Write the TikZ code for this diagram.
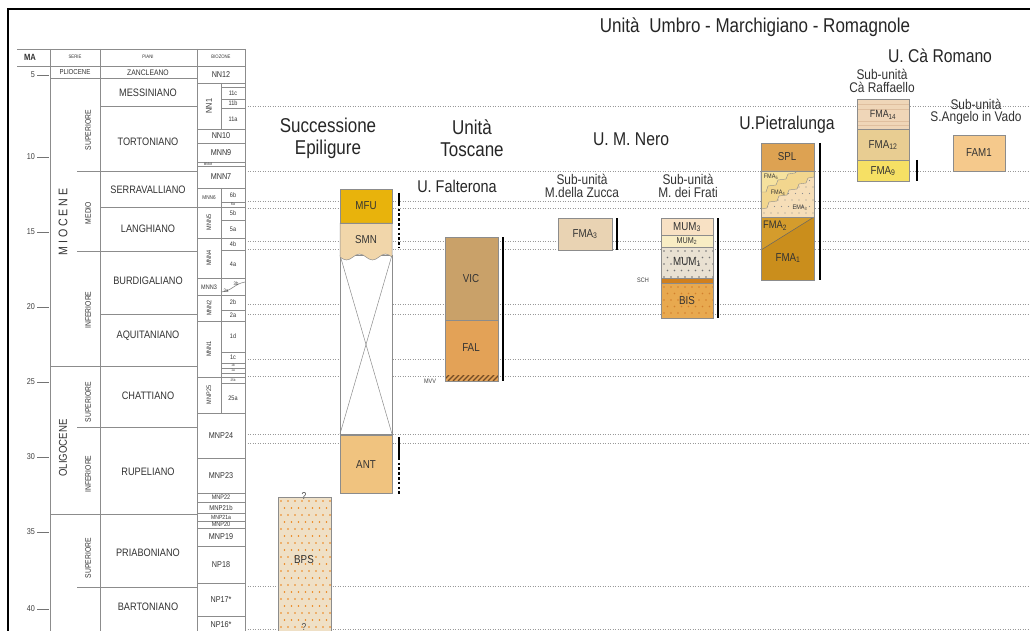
\documentclass[tikz,border=0pt]{standalone}
\usepackage{fontspec}
\setmainfont{Liberation Sans}[FakeStretch=0.85]
\usetikzlibrary{positioning}

\definecolor{cmfu}{HTML}{E8B30C}
\definecolor{csmn}{HTML}{F1D6AA}
\definecolor{cant}{HTML}{F0C37F}
\definecolor{cbps}{HTML}{EFE0C6}
\definecolor{cvic}{HTML}{C9A169}
\definecolor{cfal}{HTML}{E3A257}
\definecolor{czuc}{HTML}{E9D3B3}
\definecolor{cmumc}{HTML}{F8E1C4}
\definecolor{cmumb}{HTML}{F8EDC4}
\definecolor{cmuma}{HTML}{E9E1D2}
\definecolor{csch}{HTML}{D0801E}
\definecolor{cbis}{HTML}{E8A94F}
\definecolor{cspl}{HTML}{DDA252}
\definecolor{cfive}{HTML}{F6E29E}
\definecolor{cfour}{HTML}{F2D68E}
\definecolor{cema}{HTML}{F6DEB8}
\definecolor{cfmb}{HTML}{D49C2C}
\definecolor{cfma}{HTML}{CA8E1C}
\definecolor{cfxiv}{HTML}{EFD6B8}
\definecolor{cfxii}{HTML}{E8CD92}
\definecolor{cfix}{HTML}{F6E064}
\definecolor{cfam}{HTML}{F5C98C}

\begin{document}
\begin{tikzpicture}[x=1pt,y=-1pt,
	tab/.style={draw=black!45, line width=0.6pt},
	guide/.style={draw=black!40, line width=0.6pt, dash pattern=on 1.2pt off 1.3pt},
	box/.style={draw=black!45, line width=0.5pt},
	bar/.style={line width=2.6pt},
	dotbar/.style={line width=2.6pt, dash pattern=on 2.6pt off 2.2pt},
	bigttl/.style={font=\fontsize{20}{22}\selectfont, text=black!85, align=center},
	ttl/.style={font=\fontsize{18.5}{20}\selectfont, text=black!85},
	subttl/.style={font=\fontsize{14}{12.5}\selectfont, text=black!80, align=center},
	lab/.style={font=\fontsize{11.5}{12}\selectfont, text=black!80},
	piano/.style={font=\fontsize{10.8}{11}\selectfont, text=black!80},
	zona/.style={font=\fontsize{8.5}{9}\selectfont, text=black!80},
	sottozona/.style={font=\fontsize{6.5}{7}\selectfont, text=black!80},
	serie/.style={font=\fontsize{8}{9}\selectfont, text=black!80, rotate=90},
	inner sep=0pt]
	\useasboundingbox (0,0) rectangle (1030,631);
	\fill[white] (0,0) rectangle (1030,631);

	% cornice
	\draw[line width=1.2pt] (8,631) -- (8,9) -- (1030,9);

	% linee guida
	\foreach \y in {106,171,201,208,241,249,304,314,359,376,434,443,586,629}
		\draw[guide] (245,\y) -- (1030,\y);

	% tabella
	\draw[tab] (17,49) -- (245,49);
	\draw[tab] (17,66) -- (245,66);
	\draw[tab] (50,49) -- (50,631);
	\draw[tab] (100,49) -- (100,631);
	\draw[tab] (197,49) -- (197,631);
	\draw[tab] (245,49) -- (245,631);
	\foreach \y in {78,366,514}
		\draw[tab] (50,\y) -- (197,\y);
	\foreach \y in {171,251,427,587}
		\draw[tab] (77,\y) -- (197,\y);
	\foreach \y in {106,207,314}
		\draw[tab] (100,\y) -- (197,\y);
	\foreach \y in {83,129,143,162,166,188,207,238,278,295,321,377,413,458,493,502,513,521,528,546,583,616}
		\draw[tab] (197,\y) -- (245,\y);
	\foreach \y in {87,99,108,202,220,250,310,352,363,368,373,383}
		\draw[tab] (221,\y) -- (245,\y);
	\draw[tab] (221,83) -- (221,129);
	\draw[tab] (221,188) -- (221,413);
	\draw[tab] (221,292) .. controls (232,291) and (234,284) .. (245,282);

	\node[font=\fontsize{9}{9}\selectfont\bfseries, text=black!80] (hma) at (30,57) {MA};
	\node[font=\fontsize{5}{5}\selectfont, text=black!80] (hserie) at (75,57) {SERIE};
	\node[font=\fontsize{5}{5}\selectfont, text=black!80] (hpiani) at (148,57) {PIANI};
	\node[font=\fontsize{5}{5}\selectfont, text=black!80] (hbio) at (221,57) {BIOZONE};

	% eta
	\foreach \m/\y in {5/75,10/157,15/232,20/307,25/382,30/457,35/532,40/609}{
		\node[font=\fontsize{8.5}{9}\selectfont, text=black!75, anchor=east] (ma\m) at (35,\y) {\m};
		\draw[black!55, line width=0.6pt] (37,\y) -- (49,\y);
	}

	% serie
	\node[font=\fontsize{7.2}{8}\selectfont, text=black!80] (plio) at (75,72.5) {PLIOCENE};
	\node[font=\fontsize{12.5}{13}\selectfont, text=black!80, rotate=90] (mio) at (63,222) {M I O C E N E};
	\node[font=\fontsize{11.3}{12}\selectfont, text=black!80, rotate=90] (oligo) at (63,448) {OLIGOCENE};
	\node[serie] (sup1) at (88,130) {SUPERIORE};
	\node[serie] (med1) at (88,213) {MEDIO};
	\node[serie] (inf1) at (88,310) {INFERIORE};
	\node[serie] (sup2) at (88,402) {SUPERIORE};
	\node[serie] (inf2) at (88,474) {INFERIORE};
	\node[serie] (sup3) at (88,558) {SUPERIORE};

	% piani
	\node[font=\fontsize{8}{8}\selectfont, text=black!80] (zan) at (148,72.5) {ZANCLEANO};
	\node[piano] (mes) at (148,93) {MESSINIANO};
	\node[piano] (tor) at (148,142) {TORTONIANO};
	\node[piano] (ser) at (148,190) {SERRAVALLIANO};
	\node[piano] (lan) at (148,229) {LANGHIANO};
	\node[piano] (bur) at (148,281) {BURDIGALIANO};
	\node[piano] (aqu) at (148,336) {AQUITANIANO};
	\node[piano] (cha) at (148,396) {CHATTIANO};
	\node[piano] (rup) at (148,472) {RUPELIANO};
	\node[piano] (pri) at (148,553) {PRIABONIANO};
	\node[piano] (bar) at (148,607) {BARTONIANO};

	% biozone
	\node[zona] (nn12) at (221,75) {NN12};
	\node[zona, rotate=90] (nn11) at (209,106) {NN1};
	\node[sottozona] (z11c) at (233,93) {11c};
	\node[sottozona] (z11b) at (233,103.5) {11b};
	\node[sottozona] (z11a) at (233,119) {11a};
	\node[zona] (nn10) at (221,136) {NN10};
	\node[zona] (mnn9) at (221,152.5) {MNN9};
	\node[font=\fontsize{3.5}{4}\selectfont, text=black!80] (mnn8) at (208,164) {MNN8};
	\node[zona] (mnn7) at (221,177) {MNN7};
	\node[font=\fontsize{5.5}{6}\selectfont, text=black!80] (mnn6) at (209,197.5) {MNN6};
	\node[sottozona] (z6b) at (233,195) {6b};
	\node[font=\fontsize{4}{4}\selectfont, text=black!80] (z6a) at (233,204.5) {6a};
	\node[sottozona, rotate=90] (mnn5) at (209,222.5) {MNN5};
	\node[sottozona] (z5b) at (233,213.5) {5b};
	\node[sottozona] (z5a) at (233,229) {5a};
	\node[sottozona, rotate=90] (mnn4) at (209,258) {MNN4};
	\node[sottozona] (z4b) at (233,244) {4b};
	\node[sottozona] (z4a) at (233,264) {4a};
	\node[sottozona] (mnn3) at (209,287) {MNN3};
	\node[font=\fontsize{5}{5}\selectfont, text=black!80] (z3b) at (236,283.5) {3b};
	\node[font=\fontsize{5}{5}\selectfont, text=black!80] (z3a) at (226,290.5) {3a};
	\node[sottozona, rotate=90] (mnn2) at (209,308) {MNN2};
	\node[sottozona] (z2b) at (233,302.5) {2b};
	\node[sottozona] (z2a) at (233,315.5) {2a};
	\node[sottozona, rotate=90] (mnn1) at (209,349) {MNN1};
	\node[sottozona] (z1d) at (233,336.5) {1d};
	\node[sottozona] (z1c) at (233,357.5) {1c};
	\node[font=\fontsize{3.5}{4}\selectfont, text=black!80] (z1b) at (233,365.5) {1b};
	\node[font=\fontsize{3.5}{4}\selectfont, text=black!80] (z1a) at (233,370.5) {1a};
	\node[font=\fontsize{3.5}{4}\selectfont, text=black!80] (z25b) at (233,380) {25b};
	\node[sottozona, rotate=90] (mnp25) at (209,395) {MNP25};
	\node[sottozona] (z25a) at (233,398) {25a};
	\node[zona] (mnp24) at (221,435.5) {MNP24};
	\node[zona] (mnp23) at (221,476) {MNP23};
	\node[font=\fontsize{6.5}{7}\selectfont, text=black!80] (mnp22) at (221,497.5) {MNP22};
	\node[font=\fontsize{7}{7}\selectfont, text=black!80] (mnp21b) at (221,507.5) {MNP21b};
	\node[font=\fontsize{6}{6}\selectfont, text=black!80] (mnp21a) at (221,517) {MNP21a};
	\node[font=\fontsize{6.5}{7}\selectfont, text=black!80] (mnp20) at (221,524.5) {MNP20};
	\node[zona] (mnp19) at (221,537) {MNP19};
	\node[zona] (np18) at (221,564.5) {NP18};
	\node[zona] (np17) at (221,599.5) {NP17*};
	\node[zona] (np16) at (221,625) {NP16*};

	% titoli
	\node[bigttl] (umr) at (755,27) {Unità\enspace Umbro - Marchigiano - Romagnole};
	\node[bigttl] (epi) at (328,138) {Successione\\Epiligure};
	\node[bigttl] (tosc) at (472,138) {Unità\\Toscane};
	\node[font=\fontsize{17}{18}\selectfont, text=black!85] (falt) at (457,186) {U. Falterona};
	\node[ttl] (nero) at (631,139) {U. M. Nero};
	\node[ttl] (pietra) at (787,125) {U.Pietralunga};
	\node[ttl] (caro) at (940,56) {U. Cà Romano};
	\node[subttl] (raff) at (882,81) {Sub-unità\\Cà Raffaello};
	\node[subttl] (sang) at (976,112) {Sub-unità\\S.Angelo in Vado};
	\node[subttl] (zucca) at (582,186) {Sub-unità\\M.della Zucca};
	\node[subttl] (frati) at (688,186) {Sub-unità\\M. dei Frati};

	% Successione Epiligure
	\fill[cbps] (278,497) rectangle (331,631);
	\begin{scope}
		\clip (278,497) rectangle (331,631);
		\foreach \i in {0,...,7}
			\foreach \j in {0,...,18}
				\fill[orange!70!brown] ({281+\i*7+mod(\j,2)*3.5},{501+\j*7}) circle (0.9pt);
	\end{scope}
	\draw[box] (278,631) -- (278,497) -- (331,497) -- (331,631);
	\node[lab] (bps) at (304,560) {BPS};
	\node[font=\fontsize{10}{10}\selectfont, text=black!70] (bpsa) at (304,496) {?};
	\node[font=\fontsize{10}{10}\selectfont, text=black!70] (bpsb) at (304,627) {?};

	\draw[box, fill=white] (340,255) rectangle (392,434);
	\draw[black!45, line width=0.5pt] (340,255) -- (392,434);
	\draw[black!45, line width=0.5pt] (392,255) -- (340,434);
	\fill[cmfu, box] (340,189) rectangle (392,223);
	\fill[csmn, box] (340,257) sin (346.5,260) cos (353,257) sin (359.5,254) cos (366,257)
		sin (372.5,260) cos (379,257) sin (385.5,254) cos (392,257) -- (392,223) -- (340,223) -- cycle;
	\draw[box] (340,223) -- (392,223);
	\fill[cant, box] (340,435) rectangle (392,493);
	\node[lab] (mfu) at (366,206) {MFU};
	\node[lab] (smn) at (366,240) {SMN};
	\node[lab] (ant) at (366,465) {ANT};
	\draw[bar] (399,193) -- (399,206);
	\draw[dotbar] (399,208.5) -- (399,247);
	\draw[bar] (399,437) -- (399,460);
	\draw[dotbar] (399,462.5) -- (399,494);

	% Unita Toscane
	\fill[cvic, box] (445,237) rectangle (498,320);
	\fill[cfal, box] (445,320) rectangle (498,375);
	\fill[cfal] (445,375) rectangle (498,381);
	\begin{scope}
		\clip (445,375) rectangle (498,381);
		\foreach \i in {438,443,...,498}
			\draw[brown!60!black, line width=1.4pt] (\i,381) -- (\i+6,375);
	\end{scope}
	\draw[box] (445,237) rectangle (498,381);
	\node[lab] (vic) at (471,279) {VIC};
	\node[lab] (fal) at (471,348) {FAL};
	\node[font=\fontsize{6.5}{7}\selectfont, text=black!75] (mvv) at (430,381) {MVV};
	\draw[bar] (503,237) -- (503,381);

	% U. M. Nero
	\fill[czuc, box] (558,218) rectangle (612,250);
	\node[lab] (fma3) at (585,234) {FMA\textsubscript{3}};
	\draw[bar] (617,218) -- (617,250);

	\fill[cmumc] (661,218) rectangle (713,235);
	\fill[cmumb] (661,235) rectangle (713,247);
	\fill[cmuma] (661,247) rectangle (713,278);
	\fill[csch] (661,278) rectangle (713,283);
	\fill[cbis] (661,283) rectangle (713,318);
	\begin{scope}
		\clip (661,247) rectangle (713,278);
		\foreach \i in {0,...,7}
			\foreach \j in {0,...,4}
				\fill[black!55] ({664+\i*7+mod(\j,2)*3.5},{251+\j*6.5}) circle (0.8pt);
	\end{scope}
	\begin{scope}
		\clip (661,283) rectangle (713,318);
		\foreach \i in {0,...,7}
			\foreach \j in {0,...,5}
				\fill[brown!70!orange] ({664+\i*7+mod(\j,2)*3.5},{287+\j*6.5}) circle (0.8pt);
	\end{scope}
	\draw[box] (661,235) -- (713,235);
	\draw[box] (661,247) -- (713,247);
	\draw[box] (661,278) -- (713,278);
	\draw[box] (661,283) -- (713,283);
	\draw[box] (661,218) rectangle (713,318);
	\node[lab] (mum3) at (687,227) {MUM\textsubscript{3}};
	\node[font=\fontsize{8.5}{9}\selectfont, text=black!80] (mum2) at (687,241) {MUM\textsubscript{2}};
	\node[lab] (mum1) at (687,262) {MUM\textsubscript{1}};
	\node[lab] (bis) at (687,301) {BIS};
	\node[font=\fontsize{6.5}{7}\selectfont, text=black!75] (sch) at (643,280) {SCH};
	\draw[bar] (718,218) -- (718,318);

	% U. Pietralunga
	\fill[cspl] (761,143) rectangle (814,171);
	\fill[cema] (761,171) rectangle (814,217);
	\begin{scope}
		\clip (761,171) rectangle (814,217);
		\foreach \i in {0,...,7}
			\foreach \j in {0,...,6}
				\fill[black!45] ({764+\i*7+mod(\j,2)*3.5},{174+\j*6.5}) circle (0.7pt);
	\end{scope}
	\fill[cfour, draw=black!45, line width=0.4pt] (761,171) -- (761,209) -- (767,208) -- (769,202) -- (777,201) -- (779,196)
		-- (787,195) -- (789,190) -- (797,189) -- (799,184) -- (806,183) -- (808,178) -- (814,177) -- (814,171) -- cycle;
	\fill[cfive, draw=black!45, line width=0.4pt] (761,171) -- (761,192) -- (766,192) -- (768,186) -- (776,185) -- (778,180)
		-- (786,179) -- (788,174) -- (795,173) -- (797,171) -- cycle;
	\fill[cfmb] (761,217) rectangle (814,250);
	\fill[cfma] (761,250) -- (814,217) -- (814,280) -- (761,280) -- cycle;
	\draw[black!60, line width=0.5pt] (761,250) -- (814,217);
	\draw[box] (761,171) -- (814,171);
	\draw[box] (761,217) -- (814,217);
	\draw[box] (761,143) rectangle (814,280);
	\node[lab] (spl) at (787,157) {SPL};
	\node[font=\fontsize{6.5}{7}\selectfont, text=black!80] (fma5) at (771,177) {FMA\textsubscript{5}};
	\node[font=\fontsize{6.5}{7}\selectfont, text=black!80] (fma4) at (778,193) {FMA\textsubscript{4}};
	\node[font=\fontsize{6.5}{7}\selectfont, text=black!80] (ema3) at (800,208) {EMA\textsubscript{3}};
	\node[font=\fontsize{11}{12}\selectfont, text=black!80] (fma2) at (775,226) {FMA\textsubscript{2}};
	\node[lab] (fma1) at (788,258) {FMA\textsubscript{1}};
	\draw[bar] (820,143) -- (820,280);

	% U. Ca Romano
	\fill[cfxiv] (857,99) rectangle (909,129);
	\foreach \y in {104,109,121,125}
		\draw[brown!50, line width=0.6pt] (857,\y) -- (909,\y);
	\fill[cfxii] (857,129) rectangle (909,160);
	\fill[cfix] (857,160) rectangle (909,181);
	\draw[box] (857,129) -- (909,129);
	\draw[box] (857,160) -- (909,160);
	\draw[box] (857,99) rectangle (909,181);
	\node[font=\fontsize{10.5}{11}\selectfont, text=black!80] (fma14) at (883,115) {FMA\textsubscript{14}};
	\node[lab] (fma12) at (883,145) {FMA\textsubscript{12}};
	\node[lab] (fma9) at (883,171) {FMA\textsubscript{9}};
	\draw[bar] (917,160) -- (917,181);

	\fill[cfam, box] (953,135) rectangle (1005,171);
	\node[lab] (fam1) at (979,153) {FAM1};
\end{tikzpicture}
\end{document}
